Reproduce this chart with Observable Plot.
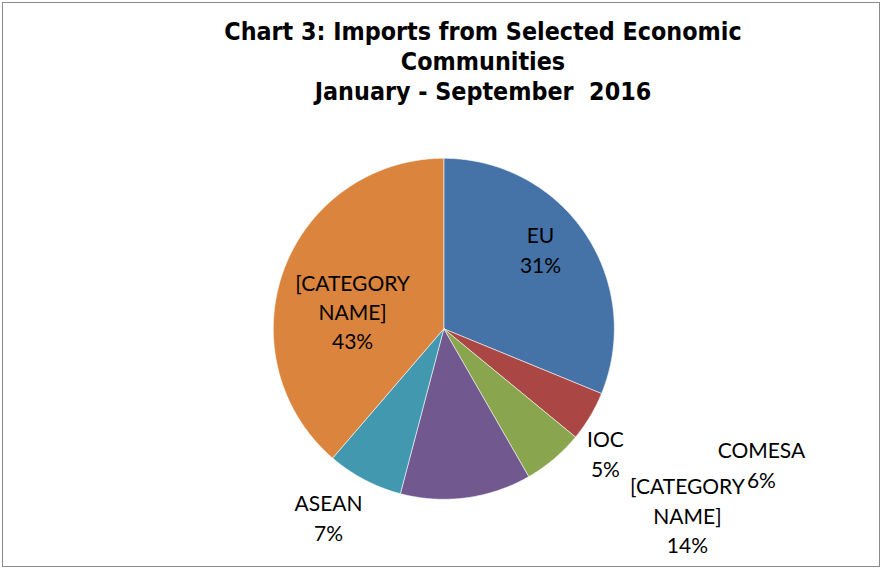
<!DOCTYPE html>
<html>
<head>
<meta charset="utf-8">
<script src="https://cdn.jsdelivr.net/npm/d3@7"></script>
<script src="https://cdn.jsdelivr.net/npm/@observablehq/plot@0.6"></script>
<style>
  html, body { margin: 0; padding: 0; background: #fff; }
  #wrap { position: relative; width: 882px; height: 569px; overflow: hidden; }
  #frame { position: absolute; left: 2px; top: 2px; width: 876px; height: 563px; border: 1.5px solid #8a8a8a; }
  #title { position: absolute; left: 84px; top: 17px; width: 798px; text-align: center;
           font-family: "DejaVu Sans Condensed", "DejaVu Sans", sans-serif; font-weight: bold;
           font-size: 24.8px; line-height: 30px; color: #000; white-space: pre; }
  #chart { position: absolute; left: 0; top: 0; }
</style>
</head>
<body>
<div id="wrap">
  <div id="frame"></div>
  <div id="chart"></div>
  <div id="title">Chart 3: Imports from Selected Economic
Communities
January - September  2016</div>
</div>
<script>
// ---- data ----
const categories = ["EU", "IOC", "COMESA", "[CATEGORY NAME]", "ASEAN", "[CATEGORY NAME]"];
const shares = [31.2, 4.75, 5.75, 12.4, 7.2, 38.7];          // slice sizes as drawn
const percentLabels = ["31%", "5%", "6%", "14%", "7%", "43%"]; // printed label text
const colors = ["#4572A7", "#AA4643", "#89A54E", "#71588F", "#4198AF", "#DB843D"];

// ---- layout (label anchors in units of the pie radius; x right, y up) ----
const labelAnchors = [
  [0.567, 0.471],
  [0.948, -0.726],
  [1.863, -0.790],
  [1.429, -1.089],
  [-0.676, -1.101],
  [-0.535, 0.107]
];
const W = 882, H = 569, CX = 443.3, CY = 328.3, R = 170.5;

const slices = categories.map((c, i) => ({id: i, name: c, value: shares[i], pct: percentLabels[i]}));
const arcs = d3.pie().sort(null).value(d => d.value)(slices);

// polygon outlines of each slice in unit coordinates
const outline = [];
for (const a of arcs) {
  const id = a.data.id;
  outline.push({id, x: 0, y: 0});
  const n = Math.max(2, Math.ceil((a.endAngle - a.startAngle) / (Math.PI / 360)));
  for (let k = 0; k <= n; k++) {
    const t = a.startAngle + (a.endAngle - a.startAngle) * k / n;
    outline.push({id, x: Math.sin(t), y: Math.cos(t)});
  }
  outline.push({id, x: 0, y: 0});
}

const labels = slices.map((s, i) => ({
  text: (s.name.includes(" ") ? s.name.replace(" ", "\n") : s.name) + "\n" + s.pct,
  x: labelAnchors[i][0], y: labelAnchors[i][1]
}));

const chart = Plot.plot({
  width: W, height: H,
  margin: 0,
  x: {domain: [-CX / R, (W - CX) / R], axis: null},
  y: {domain: [-(H - CY) / R, CY / R], axis: null},
  color: {domain: d3.range(categories.length), range: colors},
  marks: [
    Plot.line(outline, {x: "x", y: "y", z: "id", fill: "id", stroke: "#ffffff", strokeWidth: 0.8, strokeOpacity: 0.7, curve: "linear"}),
    Plot.text(labels, {x: "x", y: "y", text: "text", fontSize: 21, lineHeight: 1.4,
      fontFamily: "Lato, 'Open Sans', sans-serif", fill: "#000"})
  ]
});
document.getElementById("chart").appendChild(chart);
</script>
</body>
</html>
